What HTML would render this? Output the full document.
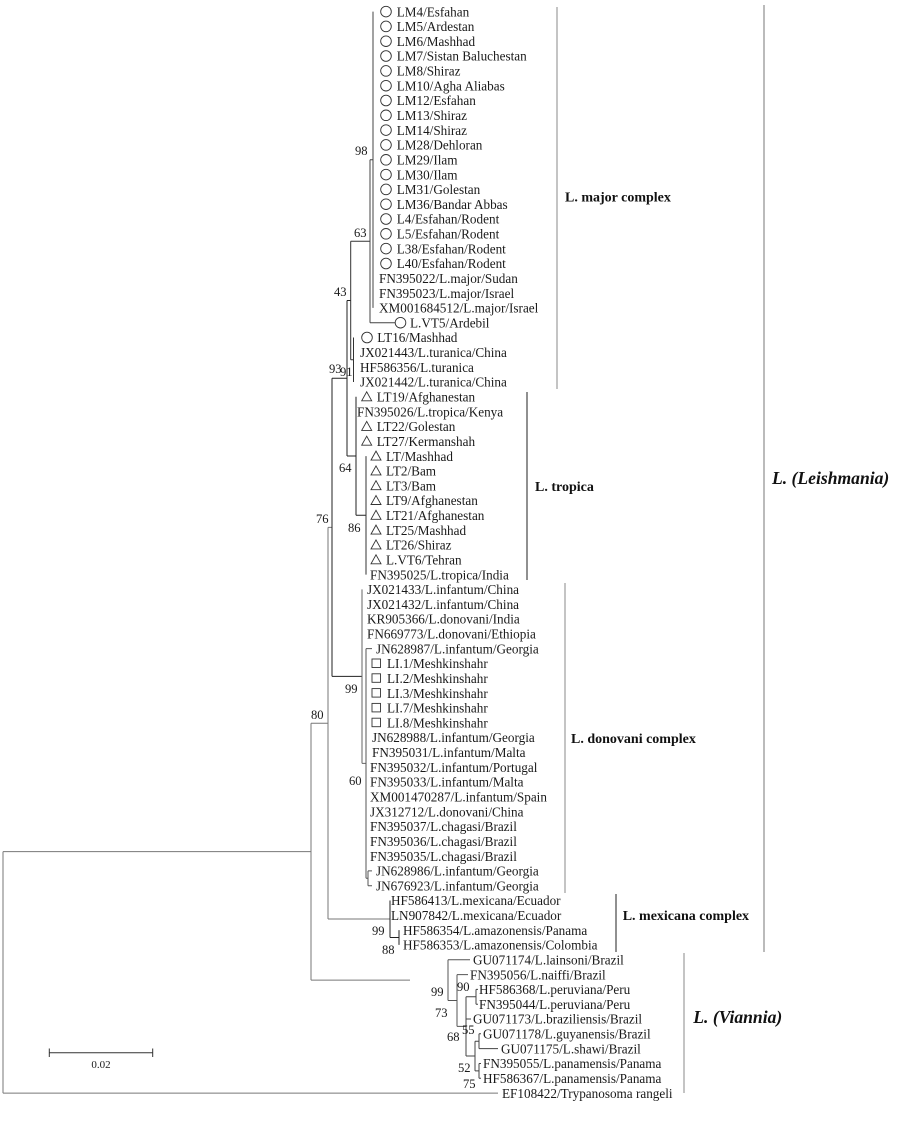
<!DOCTYPE html>
<html>
<head>
<meta charset="utf-8">
<style>
html,body{margin:0;padding:0;background:#fff;}
svg{display:block;}
.t{font-family:"Liberation Serif",serif;font-size:13.2px;fill:#1a1a1a;}
.b{font-family:"Liberation Serif",serif;font-size:12.6px;fill:#1a1a1a;}
.g{font-family:"Liberation Serif",serif;font-size:14px;font-weight:bold;fill:#111;}
.gi{font-family:"Liberation Serif",serif;font-size:17.6px;font-weight:bold;font-style:italic;fill:#111;}
</style>
</head>
<body>
<svg width="905" height="1142" viewBox="0 0 905 1142" xmlns="http://www.w3.org/2000/svg">
<rect width="905" height="1142" fill="#fff"/>

<!-- tree lines -->
<g fill="none" stroke-width="1">
<path stroke="#777" d="M3 851.6V1093.1M3 851.6H311M3 1093.1H498"/>
<path stroke="#777" d="M311 723.2V980.1M311 723.2H328M311 980.1H410"/>
<path stroke="#777" d="M328 527.4V919M328 919H390M328 527.4H332"/>
<path stroke="#222" d="M332 378.3V676.4M332 378.3H347M332 676.4H362"/>
<path stroke="#222" d="M347 300.5V456M347 300.5H350.7M347 456H356"/>
<path stroke="#333" d="M350.7 241.2V359.8M350.7 241.2H370M350.7 359.8H353.5"/>
<path stroke="#444" d="M370 159.8V322.7M370 159.8H373M370 322.7H395"/>
<path stroke="#444" d="M373 11.6V307.9"/>
<path stroke="#333" d="M353.5 337.5V382"/>
<path stroke="#222" d="M356 396.8V515.3M356 515.3H366"/>
<path stroke="#333" d="M366 456.1V574.6"/>
<path stroke="#666" d="M362 589.4V763.4M362 763.4H366"/>
<path stroke="#555" d="M366 648.6V878.3M366 648.6H372M366 878.3H368"/>
<path stroke="#555" d="M368 870.9V885.7M368 870.9H372M368 885.7H372"/>
<path stroke="#222" d="M390 900.5V937.5M390 937.5H399M399 930.1V944.9"/>
<path stroke="#555" d="M448 959.8V1000.5M448 959.8H470M448 1000.5H457"/>
<path stroke="#555" d="M457 974.6V1026.4M457 974.6H468M457 1026.4H466"/>
<path stroke="#444" d="M466 996.8V1056M466 996.8H476M466 1019H471M466 1056H475"/>
<path stroke="#444" d="M476 989.4V1004.2M476 989.4H478M476 1004.2H478"/>
<path stroke="#444" d="M475 1041.2V1070.9M475 1041.2H479M475 1070.9H479"/>
<path stroke="#444" d="M479 1033.8V1048.6M479 1033.8H481M479 1048.6H498"/>
<path stroke="#444" d="M479 1063.5V1078.3M479 1063.5H481M479 1078.3H481"/>
</g>

<!-- clade brackets -->
<g fill="none" stroke-width="1">
<path stroke="#888" d="M557 7V389"/>
<path stroke="#777" d="M764 5V952"/>
<path stroke="#222" d="M527 392V580"/>
<path stroke="#888" d="M565 583V893"/>
<path stroke="#222" d="M616 894V952"/>
<path stroke="#888" d="M684 953V1093"/>
</g>

<!-- markers: circles -->
<g fill="none" stroke="#333" stroke-width="0.9">
<circle cx="386" cy="11.6" r="5.3"/>
<circle cx="386" cy="26.4" r="5.3"/>
<circle cx="386" cy="41.2" r="5.3"/>
<circle cx="386" cy="56.0" r="5.3"/>
<circle cx="386" cy="70.9" r="5.3"/>
<circle cx="386" cy="85.7" r="5.3"/>
<circle cx="386" cy="100.5" r="5.3"/>
<circle cx="386" cy="115.3" r="5.3"/>
<circle cx="386" cy="130.1" r="5.3"/>
<circle cx="386" cy="144.9" r="5.3"/>
<circle cx="386" cy="159.8" r="5.3"/>
<circle cx="386" cy="174.6" r="5.3"/>
<circle cx="386" cy="189.4" r="5.3"/>
<circle cx="386" cy="204.2" r="5.3"/>
<circle cx="386" cy="219.0" r="5.3"/>
<circle cx="386" cy="233.8" r="5.3"/>
<circle cx="386" cy="248.6" r="5.3"/>
<circle cx="386" cy="263.5" r="5.3"/>
<circle cx="400.5" cy="322.7" r="5.3"/>
<circle cx="367" cy="337.5" r="5.3"/>
</g>
<!-- triangles -->
<g fill="none" stroke="#333" stroke-width="0.9">
<polygon points="361.7,400.8 371.7,400.8 366.7,391.8"/>
<polygon points="361.7,430.4 371.7,430.4 366.7,421.4"/>
<polygon points="361.7,445.2 371.7,445.2 366.7,436.2"/>
<polygon points="371,460.1 381,460.1 376,451.1"/>
<polygon points="371,474.9 381,474.9 376,465.9"/>
<polygon points="371,489.7 381,489.7 376,480.7"/>
<polygon points="371,504.5 381,504.5 376,495.5"/>
<polygon points="371,519.3 381,519.3 376,510.3"/>
<polygon points="371,534.1 381,534.1 376,525.1"/>
<polygon points="371,548.9 381,548.9 376,539.9"/>
<polygon points="371,563.8 381,563.8 376,554.8"/>
</g>
<!-- boxes -->
<g fill="none" stroke="#333" stroke-width="0.9">
<rect x="372" y="659.0" width="8.5" height="8.5"/>
<rect x="372" y="673.8" width="8.5" height="8.5"/>
<rect x="372" y="688.6" width="8.5" height="8.5"/>
<rect x="372" y="703.4" width="8.5" height="8.5"/>
<rect x="372" y="718.2" width="8.5" height="8.5"/>
</g>

<!-- leaf labels -->
<g class="t">
<text x="396.7" y="16.3">LM4/Esfahan</text>
<text x="396.7" y="31.1">LM5/Ardestan</text>
<text x="396.7" y="45.9">LM6/Mashhad</text>
<text x="396.7" y="60.7">LM7/Sistan Baluchestan</text>
<text x="396.7" y="75.6">LM8/Shiraz</text>
<text x="396.7" y="90.4">LM10/Agha Aliabas</text>
<text x="396.7" y="105.2">LM12/Esfahan</text>
<text x="396.7" y="120.0">LM13/Shiraz</text>
<text x="396.7" y="134.8">LM14/Shiraz</text>
<text x="396.7" y="149.6">LM28/Dehloran</text>
<text x="396.7" y="164.5">LM29/Ilam</text>
<text x="396.7" y="179.3">LM30/Ilam</text>
<text x="396.7" y="194.1">LM31/Golestan</text>
<text x="396.7" y="208.9">LM36/Bandar Abbas</text>
<text x="396.7" y="223.7">L4/Esfahan/Rodent</text>
<text x="396.7" y="238.5">L5/Esfahan/Rodent</text>
<text x="396.7" y="253.3">L38/Esfahan/Rodent</text>
<text x="396.7" y="268.2">L40/Esfahan/Rodent</text>
<text x="379" y="283.0">FN395022/L.major/Sudan</text>
<text x="379" y="297.8">FN395023/L.major/Israel</text>
<text x="379" y="312.6">XM001684512/L.major/Israel</text>
<text x="410" y="327.4">L.VT5/Ardebil</text>
<text x="377.3" y="342.2">LT16/Mashhad</text>
<text x="360" y="357.0">JX021443/L.turanica/China</text>
<text x="360" y="371.9">HF586356/L.turanica</text>
<text x="360" y="386.7">JX021442/L.turanica/China</text>
<text x="376.7" y="401.5">LT19/Afghanestan</text>
<text x="357" y="416.3">FN395026/L.tropica/Kenya</text>
<text x="376.7" y="431.1">LT22/Golestan</text>
<text x="376.7" y="445.9">LT27/Kermanshah</text>
<text x="386" y="460.8">LT/Mashhad</text>
<text x="386" y="475.6">LT2/Bam</text>
<text x="386" y="490.4">LT3/Bam</text>
<text x="386" y="505.2">LT9/Afghanestan</text>
<text x="386" y="520.0">LT21/Afghanestan</text>
<text x="386" y="534.8">LT25/Mashhad</text>
<text x="386" y="549.6">LT26/Shiraz</text>
<text x="386" y="564.5">L.VT6/Tehran</text>
<text x="370" y="579.3">FN395025/L.tropica/India</text>
<text x="367" y="594.1">JX021433/L.infantum/China</text>
<text x="367" y="608.9">JX021432/L.infantum/China</text>
<text x="367" y="623.7">KR905366/L.donovani/India</text>
<text x="367" y="638.5">FN669773/L.donovani/Ethiopia</text>
<text x="376" y="653.3">JN628987/L.infantum/Georgia</text>
<text x="387" y="668.2">LI.1/Meshkinshahr</text>
<text x="387" y="683.0">LI.2/Meshkinshahr</text>
<text x="387" y="697.8">LI.3/Meshkinshahr</text>
<text x="387" y="712.6">LI.7/Meshkinshahr</text>
<text x="387" y="727.4">LI.8/Meshkinshahr</text>
<text x="372" y="742.2">JN628988/L.infantum/Georgia</text>
<text x="372" y="757.1">FN395031/L.infantum/Malta</text>
<text x="370" y="771.9">FN395032/L.infantum/Portugal</text>
<text x="370" y="786.7">FN395033/L.infantum/Malta</text>
<text x="370" y="801.5">XM001470287/L.infantum/Spain</text>
<text x="370" y="816.3">JX312712/L.donovani/China</text>
<text x="370" y="831.1">FN395037/L.chagasi/Brazil</text>
<text x="370" y="845.9">FN395036/L.chagasi/Brazil</text>
<text x="370" y="860.8">FN395035/L.chagasi/Brazil</text>
<text x="376" y="875.6">JN628986/L.infantum/Georgia</text>
<text x="376" y="890.4">JN676923/L.infantum/Georgia</text>
<text x="391" y="905.2">HF586413/L.mexicana/Ecuador</text>
<text x="391" y="920.0">LN907842/L.mexicana/Ecuador</text>
<text x="403" y="934.8">HF586354/L.amazonensis/Panama</text>
<text x="403" y="949.6">HF586353/L.amazonensis/Colombia</text>
<text x="473" y="964.5">GU071174/L.lainsoni/Brazil</text>
<text x="470" y="979.3">FN395056/L.naiffi/Brazil</text>
<text x="479" y="994.1">HF586368/L.peruviana/Peru</text>
<text x="479" y="1008.9">FN395044/L.peruviana/Peru</text>
<text x="473" y="1023.7">GU071173/L.braziliensis/Brazil</text>
<text x="483" y="1038.5">GU071178/L.guyanensis/Brazil</text>
<text x="501" y="1053.4">GU071175/L.shawi/Brazil</text>
<text x="483" y="1068.2">FN395055/L.panamensis/Panama</text>
<text x="483" y="1083.0">HF586367/L.panamensis/Panama</text>
<text x="502" y="1097.8">EF108422/Trypanosoma rangeli</text>
</g>

<!-- bootstrap values -->
<g class="b">
<text x="355" y="155">98</text>
<text x="354" y="237">63</text>
<text x="334" y="296">43</text>
<text x="329" y="373">93</text>
<text x="340" y="376">91</text>
<text x="339" y="472">64</text>
<text x="348" y="532">86</text>
<text x="316" y="523">76</text>
<text x="345" y="693">99</text>
<text x="311" y="719">80</text>
<text x="349" y="785">60</text>
<text x="372" y="935">99</text>
<text x="382" y="954">88</text>
<text x="431" y="996">99</text>
<text x="457" y="991">90</text>
<text x="435" y="1017">73</text>
<text x="447" y="1041">68</text>
<text x="462" y="1034">55</text>
<text x="458" y="1072">52</text>
<text x="463" y="1088">75</text>
</g>

<!-- group labels -->
<text class="g" x="565" y="201.5">L. major complex</text>
<text class="g" x="535" y="491">L. tropica</text>
<text class="g" x="571" y="743">L. donovani complex</text>
<text class="g" x="622.7" y="920">L. mexicana complex</text>
<text class="gi" x="772" y="484">L. (Leishmania)</text>
<text class="gi" x="693.3" y="1023">L. (Viannia)</text>

<!-- scale bar -->
<g fill="none" stroke="#333" stroke-width="1">
<path d="M49.3 1052.7H152.7M49.3 1048.5V1057M152.7 1048.5V1057"/>
</g>
<text x="101" y="1068" text-anchor="middle" style="font-family:'Liberation Serif',serif;font-size:11px;fill:#1a1a1a;">0.02</text>
</svg>
</body>
</html>
